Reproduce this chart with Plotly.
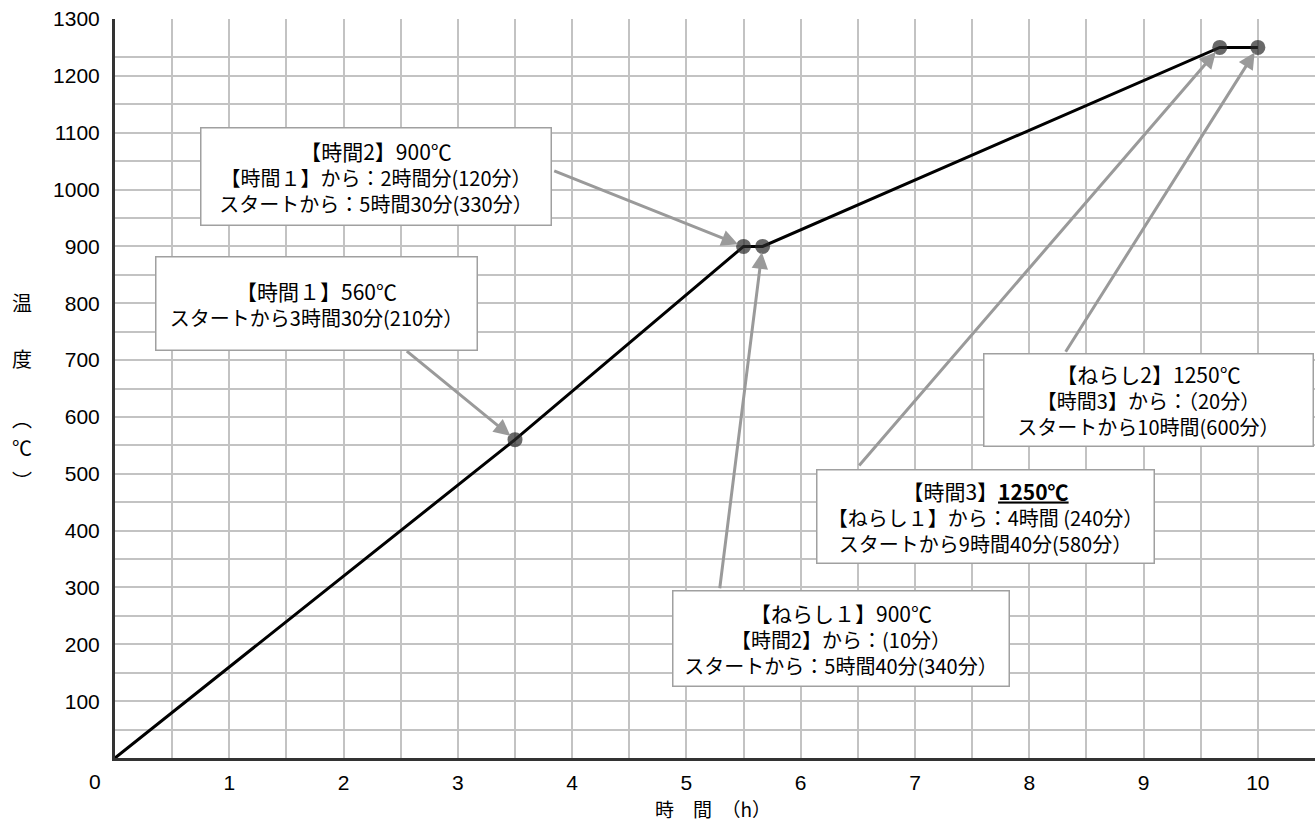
import plotly.graph_objects as go

# Firing schedule: elapsed time (hours) vs furnace temperature (°C)
time_h = [0, 3.5, 5.5, 5 + 40 / 60, 9 + 40 / 60, 10]
temp_c = [0, 560, 900, 900, 1250, 1250]
marker_shown = [False, True, True, True, True, True]

x_ticks = [1, 2, 3, 4, 5, 6, 7, 8, 9, 10]
y_ticks = [100, 200, 300, 400, 500, 600, 700, 800, 900, 1000, 1100, 1200, 1300]
y_half_lines = [50, 150, 250, 350, 450, 550, 650, 750, 850, 950, 1050, 1150, 1233]

# Callout texts, one per step of the schedule
label_time1 = ["【時間１】560℃", "スタートから3時間30分(210分）"]
label_time2 = ["【時間2】900℃", "【時間１】から：2時間分(120分）", "スタートから：5時間30分(330分）"]
label_soak1 = ["【ねらし１】900℃", "【時間2】から：(10分）", "スタートから：5時間40分(340分）"]
label_time3 = ["【時間3】<b><span style='text-decoration:underline'>1250℃</span></b>",
               "【ねらし１】から：4時間 (240分）", "スタートから9時間40分(580分）"]
label_soak2 = ["【ねらし2】1250℃", "【時間3】から：（20分）", "スタートから10時間(600分）"]

x_title = "時　間　（h）"
y_title_chars = ["温", "度", "︵", "℃", "︶"]

JP = "Noto Sans CJK JP"
NUM = "Liberation Sans"
GRID = "#c3c3c3"
AXIS = "#333333"
ARROW = "#9a9a9a"

fig = go.Figure()
fig.add_trace(go.Scatter(
    x=time_h, y=temp_c, mode="lines+markers",
    line=dict(color="#000000", width=3),
    marker=dict(size=[15 if s else 0 for s in marker_shown], color="#2a2a2a",
                line=dict(width=0)),
    hoverinfo="x+y", showlegend=False,
))

W, H = 1315, 821
L, R, T, B = 115, 0, 19, 63
pw, ph = W - L - R, H - T - B


def px_to_paper(px, py):
    return (px - L) / pw, (H - B - py) / ph


annotations = []

# Arrows from each callout to its point (tail in data units, head on the point)
arrow_specs = [
    (2, (3.83, 1034)),   # 時間2
    (1, (2.54, 718)),    # 時間1
    (3, (5.29, 296)),    # ねらし1
    (4, (6.50, 512)),    # 時間3
    (5, (8.31, 712)),    # ねらし2
]
for idx, (ax, ay) in arrow_specs:
    annotations.append(dict(
        x=time_h[idx], y=temp_c[idx], xref="x", yref="y",
        ax=ax, ay=ay, axref="x", ayref="y",
        text="", showarrow=True, arrowhead=2, arrowsize=1.1,
        arrowwidth=3, arrowcolor=ARROW, standoff=6,
    ))


def box_text(lines):
    first = f"<span style='font-size:21px'>{lines[0]}</span>"
    return "<br>".join([first] + lines[1:])


# Callout boxes: (lines, centre px, size px)
boxes = [
    (label_time2, (376, 176), (351, 98)),
    (label_time1, (316, 303), (322, 94)),
    (label_soak1, (841, 638), (337, 96)),
    (label_time3, (985, 516), (338, 94)),
    (label_soak2, (1148, 400), (330, 93)),
]
for lines, (cx, cy), (bw, bh) in boxes:
    px, py = px_to_paper(cx, cy)
    annotations.append(dict(
        x=px, y=py, xref="paper", yref="paper", xanchor="center", yanchor="middle",
        text=box_text(lines), showarrow=False, align="center", valign="middle",
        width=bw - 4, height=bh - 4, borderpad=1,
        bgcolor="#ffffff", bordercolor="#a0a0a0", borderwidth=1.5,
        font=dict(family=JP, size=20, color="#000000"),
    ))

# Origin label placed at the corner
ox, oy = px_to_paper(95, 781)
annotations.append(dict(x=ox, y=oy, xref="paper", yref="paper", text="0",
                        showarrow=False, xanchor="center", yanchor="middle",
                        font=dict(family=NUM, size=21, color="#000000")))

# Axis titles
tx, ty = px_to_paper(713, 808)
annotations.append(dict(x=tx, y=ty, xref="paper", yref="paper", text=x_title,
                        showarrow=False, xanchor="center", yanchor="middle",
                        font=dict(family=JP, size=19, color="#000000")))
for ch, cy in zip(y_title_chars, [302, 358, 418, 447, 480]):
    cx_p, cy_p = px_to_paper(22, cy)
    annotations.append(dict(x=cx_p, y=cy_p, xref="paper", yref="paper", text=ch,
                            showarrow=False, xanchor="center", yanchor="middle",
                            font=dict(family=JP, size=20, color="#000000")))

fig.update_layout(
    width=W, height=H,
    margin=dict(l=L, r=R, t=T, b=B, pad=0),
    paper_bgcolor="#ffffff", plot_bgcolor="#ffffff",
    annotations=annotations,
    xaxis=dict(
        range=[0, 10.5], tickvals=x_ticks, ticktext=[str(v) for v in x_ticks],
        showgrid=True, gridcolor=GRID, gridwidth=2,
        minor=dict(dtick=0.5, showgrid=True, gridcolor=GRID, gridwidth=2),
        showline=True, linecolor=AXIS, linewidth=3, zeroline=False,
        ticks="", ticklabelstandoff=4,
        tickfont=dict(family=NUM, size=21, color="#000000"),
    ),
    yaxis=dict(
        range=[0, 1300], tickvals=y_ticks, ticktext=[str(v) for v in y_ticks],
        showgrid=True, gridcolor=GRID, gridwidth=2,
        minor=dict(tickvals=y_half_lines, showgrid=True, gridcolor=GRID, gridwidth=2),
        showline=True, linecolor=AXIS, linewidth=3, zeroline=False,
        ticks="", ticklabelstandoff=8,
        tickfont=dict(family=NUM, size=21, color="#000000"),
    ),
)

fig.write_html("out.html")
